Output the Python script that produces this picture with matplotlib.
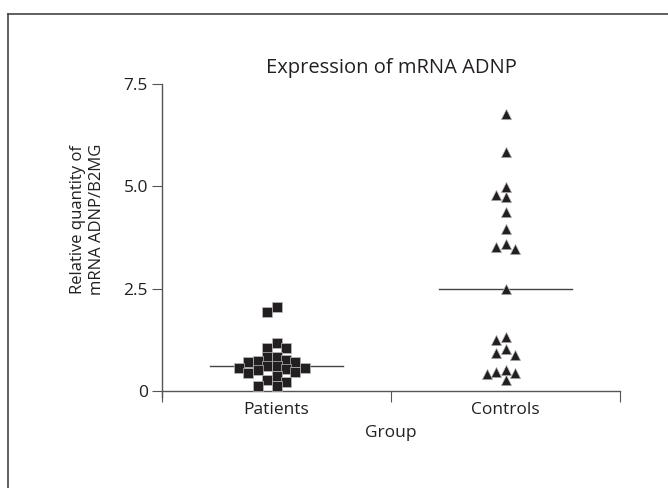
import matplotlib.pyplot as plt
import numpy as np
from matplotlib.lines import Line2D

plt.rcParams['font.family'] = ['Open Sans', 'DejaVu Sans']

groups = ["Patients", "Controls"]
patients = [2.04, 1.92, 1.17, 1.04, 1.04, 0.83, 0.83, 0.76, 0.74, 0.72, 0.72,
            0.60, 0.60, 0.57, 0.57, 0.53, 0.51, 0.46, 0.45, 0.37, 0.27, 0.22,
            0.12, 0.12]
controls = [6.76, 5.83, 4.99, 4.80, 4.75, 4.38, 3.96, 3.58, 3.51, 3.48, 2.50,
            1.33, 1.25, 1.02, 0.94, 0.88, 0.51, 0.46, 0.45, 0.42, 0.27]
yticks = [0, 2.5, 5.0, 7.5]
ytick_labels = ["0", "2.5", "5.0", "7.5"]


def swarm(values, center, step=0.041, min_dy=0.21):
    # simple column-based swarm so markers don't overlap
    placed = []
    xs = []
    order = [0, -1, 1, -2, 2, -3, 3, -4, 4]
    for v in values:
        for k in order:
            if all(abs(v - pv) >= min_dy for pk, pv in placed if pk == k):
                placed.append((k, v))
                xs.append(center + k * step)
                break
    return np.array(xs)


fig = plt.figure(figsize=(6.68, 4.88), dpi=100)
ax = fig.add_axes([162 / 668, 1 - 391 / 488, 458 / 668, 307 / 488])

fig.add_artist(Line2D([8 / 668, 1], [1 - 14 / 488, 1 - 14 / 488],
                      color="#444444", lw=1.2, transform=fig.transFigure))
fig.add_artist(Line2D([8 / 668, 8 / 668], [0, 1 - 14 / 488],
                      color="#444444", lw=1.2, transform=fig.transFigure))

for i, (vals, m, sz) in enumerate([(patients, "s", 46), (controls, "^", 56)]):
    c = i + 0.5
    xs = swarm(vals, c)
    ax.scatter(xs, vals, marker=m, s=sz, color="#231f20", zorder=3,
               edgecolors="#bbbbbb", linewidths=0.5)
    med = np.median(vals)
    ax.plot([c - 0.29, c + 0.29], [med, med], color="#444444", lw=1.0,
            zorder=2)

ax.set_xlim(0, 2)
ax.set_ylim(0, 7.5)
ax.spines[["top", "right"]].set_visible(False)
for sp in ["left", "bottom"]:
    ax.spines[sp].set_color("#555555")
    ax.spines[sp].set_linewidth(1.0)
ax.spines["left"].set_bounds(-0.15, 7.5)
ax.spines["left"].set_clip_on(False)

ax.set_yticks(yticks)
ax.set_yticklabels(ytick_labels)
ax.set_xticks([0, 1, 2])
ax.set_xticklabels([])
ax.set_xticks([0.5, 1.5], minor=True)
ax.set_xticklabels(groups, minor=True)
ax.tick_params(axis="x", which="minor", length=0, pad=8, labelsize=12.5,
               colors="#231f20")
ax.tick_params(axis="x", which="major", length=8, color="#555555")
ax.tick_params(axis="y", length=7, color="#555555", labelsize=12.5,
               labelcolor="#231f20", pad=3)

ax.set_title("Expression of mRNA ADNP", fontsize=14.5, color="#231f20",
             pad=8)
ax.set_xlabel("Group", fontsize=12.5, color="#231f20", labelpad=5)
ax.set_ylabel("Relative quantity of\nmRNA ADNP/B2MG", fontsize=12,
              color="#231f20", linespacing=1.25)
ax.yaxis.set_label_coords(-0.125, 0.56)

fig.savefig("out.png", dpi=100)
